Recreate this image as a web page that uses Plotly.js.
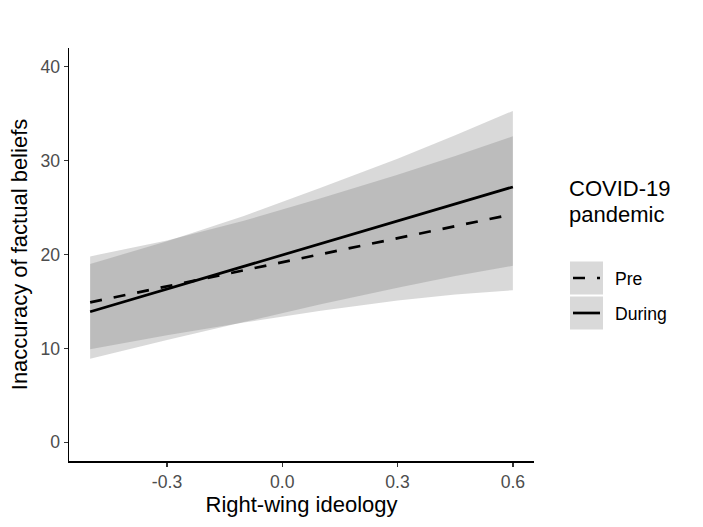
<!DOCTYPE html>
<html>
<head>
<meta charset="utf-8">
<script src="https://cdn.plot.ly/plotly-3.0.1.min.js"></script>
<style>html,body{margin:0;padding:0;background:#fff;}#chart{width:703px;height:527px;}</style>
</head>
<body>
<div id="chart"></div>
<script>
// Data
const lineX = [-0.5, 0.6];
const preLine = [14.9, 24.3];
const duringLine = [13.9, 27.2];

const bandX = [-0.5, -0.3, -0.1, 0.1, 0.3, 0.45, 0.6];
const preLower = [9.9, 11.4, 12.75, 14.0, 15.1, 15.75, 16.2];
const preUpper = [19.8, 21.5, 23.6, 26.0, 28.5, 30.5, 32.6];
const duringLower = [8.9, 10.9, 12.8, 14.7, 16.45, 17.7, 18.8];
const duringUpper = [19.0, 21.4, 24.1, 27.1, 30.2, 32.7, 35.3];

const xTickVals = [-0.3, 0.0, 0.3, 0.6];
const xTickText = ["-0.3", "0.0", "0.3", "0.6"];
const yTickVals = [0, 10, 20, 30, 40];

const groupNames = ["Pre", "During"];
const legendTitle = ["COVID-19", "pandemic"];
const xTitle = "Right-wing ideology";
const yTitle = "Inaccuracy of factual beliefs";

const bandFill = "rgba(102,102,102,0.25)";
const FONT = "Liberation Sans, Arial, sans-serif";
const TITLE_SIZE = 22;
const TEXT_SIZE = 17.6;

function band(lo, hi) {
  return [
    {x: bandX, y: lo, type: "scatter", mode: "lines", line: {width: 0, color: "rgba(0,0,0,0)"}, hoverinfo: "skip", showlegend: false},
    {x: bandX, y: hi, type: "scatter", mode: "lines", line: {width: 0, color: "rgba(0,0,0,0)"}, fill: "tonexty", fillcolor: bandFill, hoverinfo: "skip", showlegend: false}
  ];
}

const traces = [
  ...band(preLower, preUpper),
  ...band(duringLower, duringUpper),
  {x: lineX, y: preLine, type: "scatter", mode: "lines", line: {color: "#000", width: 2.7, dash: "12px,12px"}, showlegend: false, name: groupNames[0]},
  {x: lineX, y: duringLine, type: "scatter", mode: "lines", line: {color: "#000", width: 2.7}, showlegend: false, name: groupNames[1]}
];

// plot area pixel geometry for the custom legend
const L = 69, R = 534, T = 48, B = 461;
const px = v => (v - L) / (R - L);
const py = v => (B - v) / (B - T);

const shapes = [
  {type: "rect", xref: "paper", yref: "paper", x0: px(570), x1: px(603), y0: py(261.5), y1: py(294.5), fillcolor: bandFill, line: {width: 0}},
  {type: "rect", xref: "paper", yref: "paper", x0: px(570), x1: px(603), y0: py(296.5), y1: py(329.5), fillcolor: bandFill, line: {width: 0}},
  {type: "line", xref: "paper", yref: "paper", x0: px(573), x1: px(600), y0: py(278), y1: py(278), line: {color: "#000", width: 2.7, dash: "12px,12px"}},
  {type: "line", xref: "paper", yref: "paper", x0: px(573), x1: px(600), y0: py(313), y1: py(313), line: {color: "#000", width: 2.7}}
];

const annotations = [
  {xref: "paper", yref: "paper", x: px(567), y: py(188.5), xanchor: "left", yanchor: "middle", text: legendTitle[0], showarrow: false, font: {family: FONT, size: TITLE_SIZE, color: "#000"}},
  {xref: "paper", yref: "paper", x: px(567), y: py(214.5), xanchor: "left", yanchor: "middle", text: legendTitle[1], showarrow: false, font: {family: FONT, size: TITLE_SIZE, color: "#000"}},
  {xref: "paper", yref: "paper", x: px(613), y: py(279), xanchor: "left", yanchor: "middle", text: groupNames[0], showarrow: false, font: {family: FONT, size: TEXT_SIZE, color: "#000"}},
  {xref: "paper", yref: "paper", x: px(613), y: py(314), xanchor: "left", yanchor: "middle", text: groupNames[1], showarrow: false, font: {family: FONT, size: TEXT_SIZE, color: "#000"}}
];

const layout = {
  width: 703, height: 527,
  margin: {l: L, r: 703 - R, t: T, b: 527 - B, pad: 0},
  paper_bgcolor: "#fff", plot_bgcolor: "#fff",
  font: {family: FONT},
  showlegend: false,
  xaxis: {
    range: [-0.555, 0.655], tickvals: xTickVals, ticktext: xTickText,
    showgrid: false, zeroline: false, showline: true, linecolor: "#000", linewidth: 1.5,
    ticks: "outside", ticklen: 4, tickwidth: 1.3, tickcolor: "#333",
    tickfont: {family: FONT, size: TEXT_SIZE, color: "#4d4d4d"},
    title: {text: xTitle, font: {family: FONT, size: TITLE_SIZE, color: "#000"}, standoff: 6},
    automargin: false
  },
  yaxis: {
    range: [-2, 42], tickvals: yTickVals,
    showgrid: false, zeroline: false, showline: true, linecolor: "#000", linewidth: 1.5,
    ticks: "outside", ticklen: 4, tickwidth: 1.3, tickcolor: "#333",
    tickfont: {family: FONT, size: TEXT_SIZE, color: "#4d4d4d"},
    title: {text: yTitle, font: {family: FONT, size: TITLE_SIZE, color: "#000"}, standoff: 6},
    automargin: false
  },
  shapes: shapes,
  annotations: annotations
};

Plotly.newPlot("chart", traces, layout, {displayModeBar: false, staticPlot: true});
</script>
</body>
</html>
